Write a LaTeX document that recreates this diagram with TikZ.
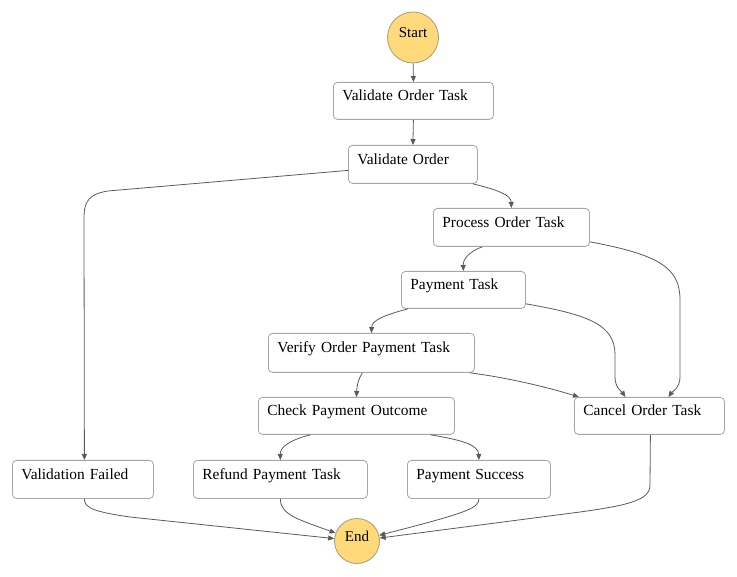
\documentclass[tikz,border=0pt]{standalone}
\usepackage{fontspec}
\setmainfont{Liberation Serif}
\usetikzlibrary{arrows.meta,calc}
\definecolor{boxline}{HTML}{A6A6A6}
\definecolor{edgecol}{HTML}{5A5A5A}
\definecolor{termfill}{HTML}{FFD97A}
\definecolor{termline}{HTML}{A89A7A}
\tikzset{
  taskbox/.style={draw=boxline, fill=white, rounded corners=4pt, line width=0.8pt,
    anchor=north west, inner xsep=9pt, inner ysep=0pt, align=left,
    text height=10pt, text depth=10pt, font=\fontsize{15.4}{17}\selectfont},
  term/.style={circle, draw=termline, fill=termfill, line width=0.8pt, inner sep=0pt,
    text height=10pt, text depth=10pt, font=\fontsize{15}{17}\selectfont},
  flow/.style={draw=edgecol, line width=0.8pt, -{Triangle[length=6pt,width=5pt]}},
}
\newcommand{\taskat}[6]{%
  \pgfmathsetmacro{\bw}{#4-#2}\pgfmathsetmacro{\bh}{#5-#3}\pgfmathsetmacro{\tw}{#4-#2-18}%
  \node[taskbox, minimum width=\bw pt, minimum height=\bh pt, text width=\tw pt] (#1) at (#2,#3) {#6};}
\begin{document}
\begin{tikzpicture}[x=1pt,y=-1pt]
\useasboundingbox (0,0) rectangle (737,577);
\node[term, minimum size=51pt] (start) at (413,37.5) {Start};
\node[term, minimum size=45pt] (end) at (357,541) {End};
\taskat{vot}{333}{82}{493}{119}{Validate Order Task}
\taskat{vo}{348}{145}{477}{183}{Validate Order}
\taskat{pot}{433}{208}{589}{246}{Process Order Task}
\taskat{pt}{401}{271}{525}{308}{Payment Task}
\taskat{vopt}{268}{333}{474}{372}{Verify Order Payment Task}
\taskat{cpo}{258}{397}{454}{434}{Check Payment Outcome}
\taskat{cot}{574}{397}{724}{434}{Cancel Order Task}
\taskat{vf}{12}{460}{153}{498}{Validation Failed}
\taskat{rpt}{193}{460}{367}{498}{Refund Payment Task}
\taskat{ps}{407}{460}{550}{498}{Payment Success}

\draw[flow] (start) -- (vot.north);
\draw[flow] (vot.south) -- (vo.north);
\draw[flow] ([yshift=-6pt]vo.west) -- (108,191) .. controls (90,194) and (84,200) .. (84,218) -- ([xshift=1.5pt]vf.north);
\draw[flow] ([xshift=-5pt]vo.south east) .. controls (498,190) and (511,195) .. (pot.north);
\draw[flow] ([xshift=-29pt]pot.south) .. controls (468,252) and (463,260) .. (pt.north);
\draw[flow] ([yshift=5pt]pot.south east) .. controls (660,255) and (680,268) .. (680,300) -- (680,377) .. controls (680,388) and (672,392) .. ([xshift=19pt]cot.north);
\draw[flow] ([yshift=5pt]pt.south east) .. controls (590,315) and (615,325) .. (615,355) -- (615,377) .. controls (615,388) and (622,392) .. ([xshift=-24pt]cot.north);
\draw[flow] ([xshift=7pt]pt.south west) .. controls (385,315) and (372,320) .. (vopt.north);
\draw[flow] ([xshift=-9pt]vopt.south) .. controls (358,380) and (357,385) .. (cpo.north);
\draw[flow] ([xshift=-5pt]vopt.south east) .. controls (510,378) and (550,388) .. ([xshift=5pt]cot.north west);
\draw[flow] ([xshift=-46pt]cpo.south) .. controls (290,440) and (280,447) .. (rpt.north);
\draw[flow] ([xshift=74pt]cpo.south) .. controls (462,440) and (478.5,445) .. (ps.north);
\draw[flow] ([xshift=1.5pt]vf.south) .. controls (84,508) and (95,512) .. (130,517) -- (end);
\draw[flow] (rpt.south) .. controls (280,515) and (300,520) .. (end);
\draw[flow] (ps.south) .. controls (478.5,508) and (470,512) .. (end);
\draw[flow] ([xshift=1pt]cot.south) -- (650,485) .. controls (650,500) and (630,505) .. (580,512) -- (end);
\end{tikzpicture}
\end{document}
